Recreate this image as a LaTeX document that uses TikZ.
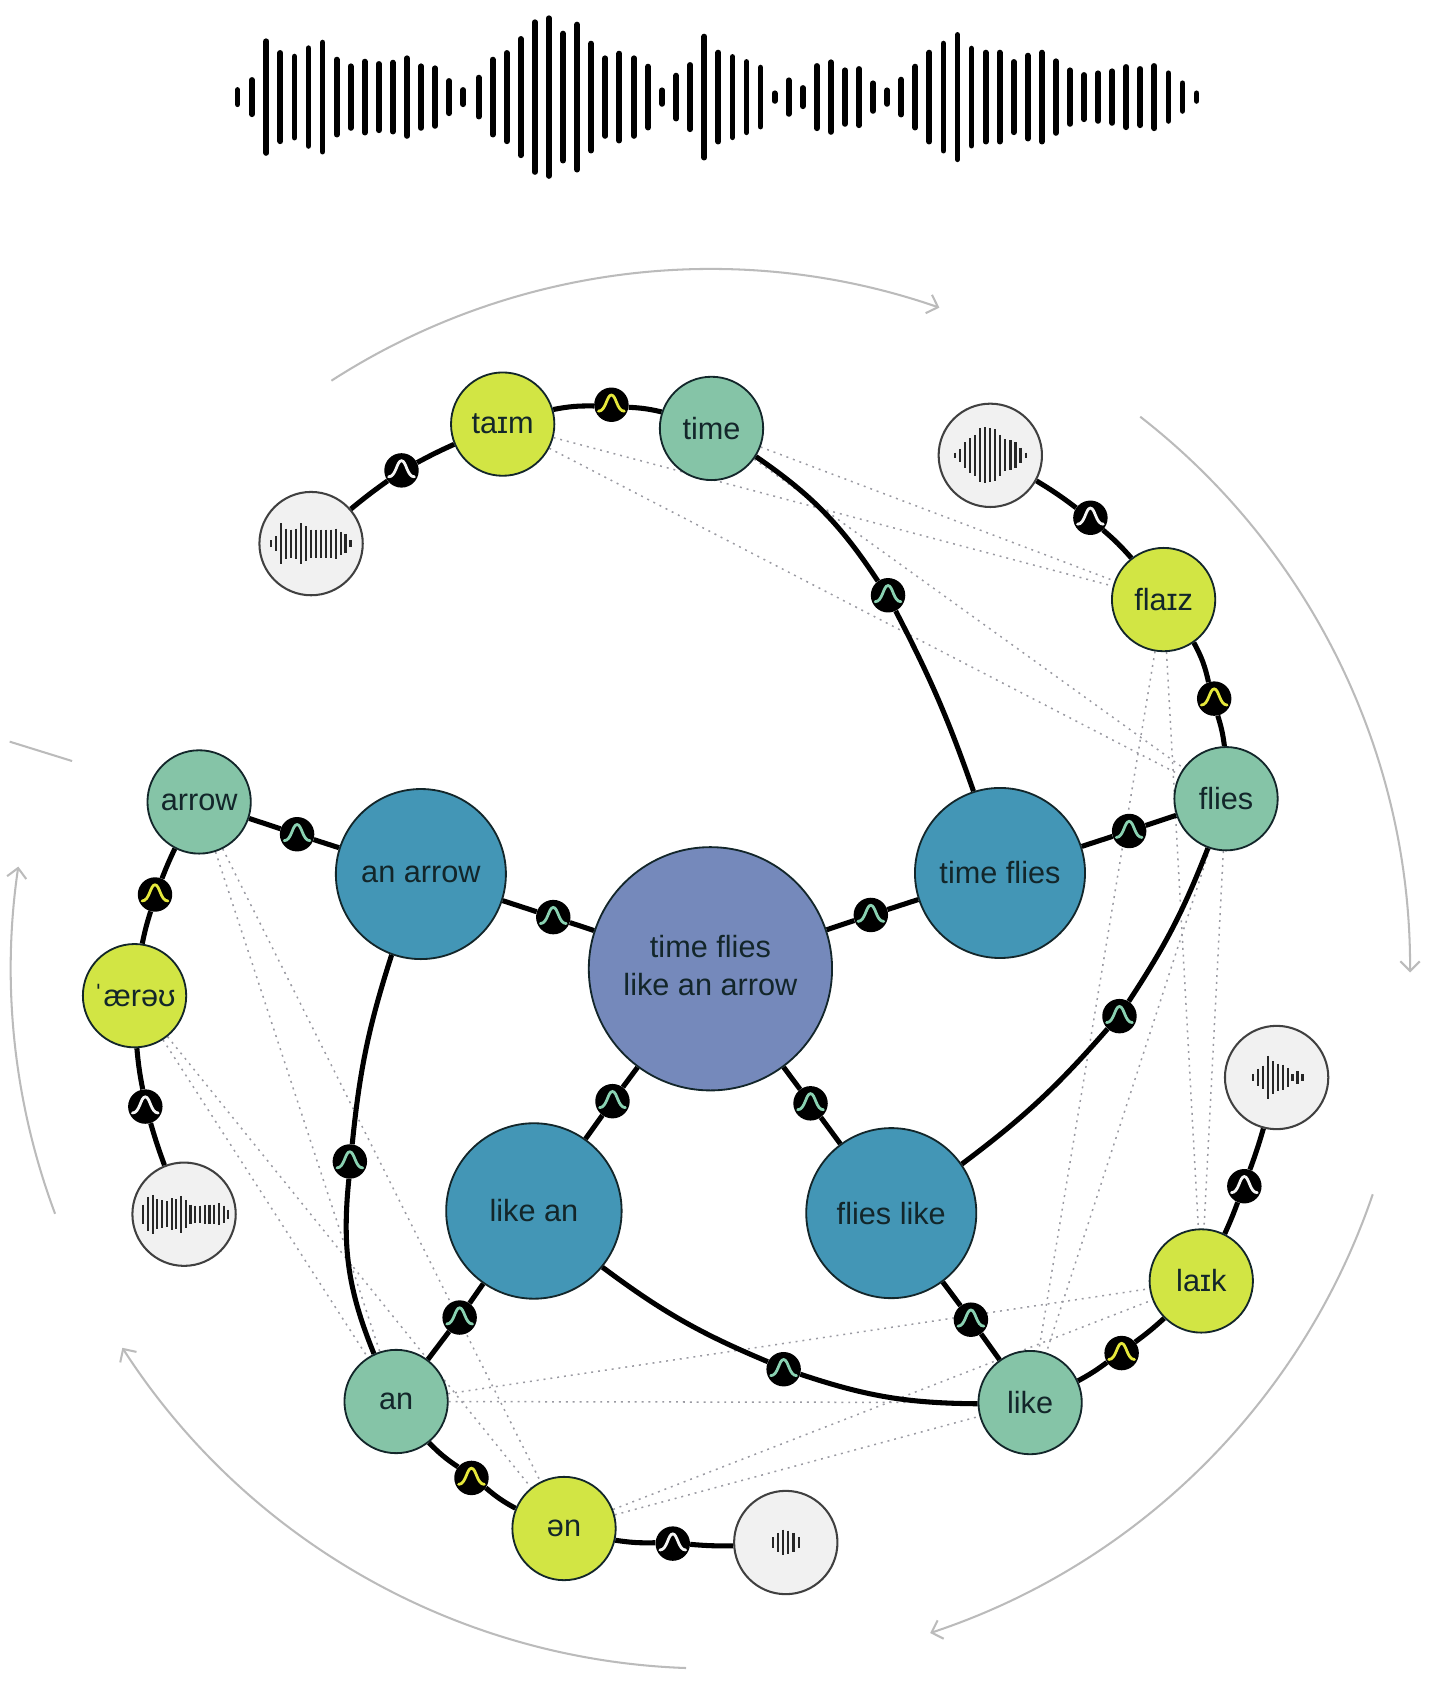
\documentclass[tikz,border=0pt]{standalone}
\usepackage{fontspec}
\setmainfont{Liberation Sans}
\usetikzlibrary{arrows.meta,backgrounds,calc}
\definecolor{rootc}{HTML}{7589BB}
\definecolor{phrasec}{HTML}{4396B6}
\definecolor{wordc}{HTML}{85C4A7}
\definecolor{phonec}{HTML}{D2E544}
\definecolor{audioc}{HTML}{F1F1F1}
\definecolor{txtc}{HTML}{13262A}
\definecolor{outerc}{HTML}{BBBBBB}
\definecolor{dotc}{HTML}{9A9AA2}
\definecolor{bellw}{HTML}{F6F6F6}
\definecolor{belly}{HTML}{E6E83C}
\definecolor{bellt}{HTML}{8AD2B2}
\tikzset{
  base/.style={circle,inner sep=0pt,draw=txtc,line width=1.7pt,text=txtc,font=\fontsize{28.5}{35}\selectfont,align=center},
  rootn/.style={base,minimum size=226pt,fill=rootc},
  phrase/.style={base,minimum size=158pt,fill=phrasec},
  wordn/.style={base,minimum size=96pt,fill=wordc},
  phonen/.style={base,minimum size=96pt,fill=phonec},
  audio/.style={circle,inner sep=0pt,minimum size=96pt,fill=audioc,draw=black!75,line width=1.9pt},
  bumpc/.style={circle,inner sep=0pt,minimum size=32pt,fill=black},
  bell/.style={line width=2.6pt,line cap=round},
  link/.style={line width=4.7pt,black},
  simlink/.style={line width=1.4pt,dotc,dash pattern=on 1.8pt off 4.6pt},
  outer/.style={line width=1.9pt,outerc},
  tipv/.style={-{Straight Barb[length=9pt,width=18pt,line width=1.9pt]}},
  wavebar/.style={line width=5.4pt,line cap=round,black},
  minibar/.style={line width=2pt,black!85}
}
\newcommand{\bumpat}[4]{%
  \node[bumpc] (#1) at (#2,#3) {};
  \draw[bell,#4,shift={(#1.center)}] (-12,6) .. controls (-5,6) and (-4.5,-9) .. (0,-9) .. controls (4.5,-9) and (5,6) .. (12,6);
}
\newcommand{\miniwave}[4]{% node, x offset, spacing, heights
  \foreach \h [count=\i from 0] in {#4} {
    \draw[minibar,shift={(#1.center)}] ({#2+\i*#3},{-\h}) -- ({#2+\i*#3},{\h});
  }
}
\begin{document}
\begin{tikzpicture}[x=1pt,y=-1pt]
\useasboundingbox (0,0) rectangle (1328.5,1569.1);
% waveform
\foreach \zx/\h in {56/30,77.5/60,99/176,120/141,141/130,162/155,183/172,204/121,225/101,246/115,267/108,288/112,309/125,330/101,351/95,372/57,393/30,416/67,437/121,458/141,479/183,500/233,521/245,542/199,563/226,584/169,605/125,626/139,648/125,669/100,690/29,711/73,732/105,753/190,774/142,795/129,816/114,837/97,858/20,879/59,900/36,921/102,942/113,963/89,984/93,1005/50,1026/29,1047/61,1068/100,1089/142,1110/169,1131/195,1152/154,1173/142,1194/142,1215/114,1236/133,1257/142,1278/116,1299/89,1320/75,1341/80,1362/86,1383/99,1404/93,1425/102,1446/80,1467/50,1488/20} {
  \draw[wavebar] ({185.8+\zx*0.6222},{90.2-\h*0.31+2.7}) -- ({185.8+\zx*0.6222},{90.2+\h*0.31-2.7});
}
% nodes
\node[rootn] (root) at (660,900) {\raisebox{7pt}{\begin{tabular}{@{}c@{}}time flies\\like an arrow\end{tabular}}};
\node[phrase] (tf) at (929,811) {time flies};
\node[phrase] (aa) at (391,812) {an arrow};
\node[phrase,minimum size=163pt] (la) at (496,1125) {like an};
\node[phrase] (fl) at (828,1127) {flies like};
\node[wordn] (time) at (661,398) {time};
\node[wordn] (flies) at (1139,742) {flies};
\node[wordn] (arrow) at (185,745) {arrow};
\node[wordn] (an) at (368,1302) {an};
\node[wordn] (like) at (957,1303) {like};
\node[phonen] (taim) at (467,394) {taɪm};
\node[phonen] (flaiz) at (1081,557) {flaɪz};
\node[phonen] (aero) at (125,925) {ˈærəʊ};
\node[phonen] (en) at (524,1420) {ən};
\node[phonen] (laik) at (1116,1190) {laɪk};
\node[audio] (g1) at (289,505) {};
\node[audio] (g2) at (920,423) {};
\node[audio] (g3) at (171,1128) {};
\node[audio] (g4) at (730,1433) {};
\node[audio] (g5) at (1186,1001) {};
\miniwave{g1}{-37}{4.6}{3,7,19,14,13,14,19,16,13,13,13,13,13,14,11,9,3}
\miniwave{g2}{-33}{4.7}{2.5,6,12,16,19,25,26,25,24,19,15,14,12,7,2.5}
\miniwave{g3}{-38}{4.4}{9,16,18,14,13,12,15,14,17,13,9,8,8,9,9,9,10,8,4}
\miniwave{g4}{-12}{4.8}{5,9,12,11,9,5}
\miniwave{g5}{-22}{4.6}{3,8,11,20,15,13,12,9,3,6,3}
% bumps
\bumpat{s1}{373}{437}{bellw}
\bumpat{s2}{568}{376}{belly}
\bumpat{s3}{825}{553}{bellt}
\bumpat{s4}{1013}{481}{bellw}
\bumpat{s5}{1128}{649}{belly}
\bumpat{s6}{1049}{772}{bellt}
\bumpat{s7}{809}{850}{bellt}
\bumpat{s8}{514}{852}{bellt}
\bumpat{s9}{276}{775}{bellt}
\bumpat{s10}{144}{831}{belly}
\bumpat{s11}{135}{1028}{bellw}
\bumpat{s12}{325}{1079}{bellt}
\bumpat{s13}{569}{1023}{bellt}
\bumpat{s14}{753}{1025}{bellt}
\bumpat{s15}{1040}{944}{bellt}
\bumpat{s16}{1156}{1102}{bellw}
\bumpat{s17}{902}{1226}{bellt}
\bumpat{s18}{1042}{1257}{belly}
\bumpat{s19}{728}{1272}{bellt}
\bumpat{s20}{427}{1224}{bellt}
\bumpat{s21}{438}{1373}{belly}
\bumpat{s22}{625}{1434}{bellw}
\coordinate (c) at (660,900);
\coordinate (t1) at (9,689);
\coordinate (t2) at (67,707);
\begin{scope}[on background layer]
  % outer arcs
  \draw[outer,tipv] (c) ++(122.8:650pt) arc[start angle=122.8,end angle=70.9,radius=650pt];
  \draw[outer,tipv] (c) ++(52.1:650pt) arc[start angle=52.1,end angle=-0.3,radius=650pt];
  \draw[outer,tipv] (c) ++(-18.8:650pt) arc[start angle=-18.8,end angle=-71.7,radius=650pt];
  \draw[outer,tipv] (c) ++(-92:650pt) arc[start angle=-92,end angle=-147.2,radius=650pt];
  \draw[outer,tipv] (c) ++(-159.5:650pt) arc[start angle=-159.5,end angle=-188.4,radius=650pt];
  \draw[outer] (t1) -- (t2);
  % dotted similarity links
  \foreach \a/\b in {taim/flaiz,taim/flies,time/flaiz,time/flies,flaiz/laik,flaiz/like,flies/laik,flies/like,an/laik,an/like,en/laik,en/like,arrow/an,arrow/en,aero/an,aero/en} {
    \draw[simlink] (\a) -- (\b);
  }
  % chains
  \draw[link] (g1) to[bend left=2] (s1);
  \draw[link] (s1) to[bend left=2] (taim);
  \draw[link] (taim) to[bend left=6] (s2);
  \draw[link] (s2) to[bend left=5] (time);
  \draw[link] (g2) to[bend left=3] (s4);
  \draw[link] (s4) to[bend left=4] (flaiz);
  \draw[link] (flaiz) to[bend left=8] (s5);
  \draw[link] (s5) to[bend left=5] (flies);
  \draw[link] (g5) to[bend left=2] (s16);
  \draw[link] (s16) to[bend left=2] (laik);
  \draw[link] (laik) to[bend left=3] (s18);
  \draw[link] (s18) to[bend left=4] (like);
  \draw[link] (g4) to[bend left=3] (s22);
  \draw[link] (s22) to[bend left=5] (en);
  \draw[link] (en) to[bend left=6] (s21);
  \draw[link] (s21) to[bend left=6] (an);
  \draw[link] (g3) to[bend left=2] (s11);
  \draw[link] (s11) to[bend left=3] (aero);
  \draw[link] (aero) to[bend left=3] (s10);
  \draw[link] (s10) to[bend left=2] (arrow);
  % inner
  \draw[link] (time) to[bend left=11] (s3);
  \draw[link] (s3) to[bend left=4] (tf);
  \draw[link] (tf) -- (s7);
  \draw[link] (s7) -- (root);
  \draw[link] (tf) -- (s6);
  \draw[link] (s6) -- (flies);
  \draw[link] (aa) -- (s8);
  \draw[link] (s8) -- (root);
  \draw[link] (arrow) -- (s9);
  \draw[link] (s9) -- (aa);
  \draw[link] (root) -- (s13);
  \draw[link] (s13) -- (la);
  \draw[link] (root) -- (s14);
  \draw[link] (s14) -- (fl);
  \draw[link] (aa) to[bend right=6] (s12);
  \draw[link] (s12) to[bend right=14] (an);
  \draw[link] (flies) to[bend left=6] (s15);
  \draw[link] (s15) to[bend left=6] (fl);
  \draw[link] (la) to[bend right=7] (s19);
  \draw[link] (s19) to[bend right=9] (like);
  \draw[link] (fl) -- (s17);
  \draw[link] (s17) -- (like);
  \draw[link] (la) -- (s20);
  \draw[link] (s20) -- (an);
\end{scope}
\end{tikzpicture}
\end{document}
